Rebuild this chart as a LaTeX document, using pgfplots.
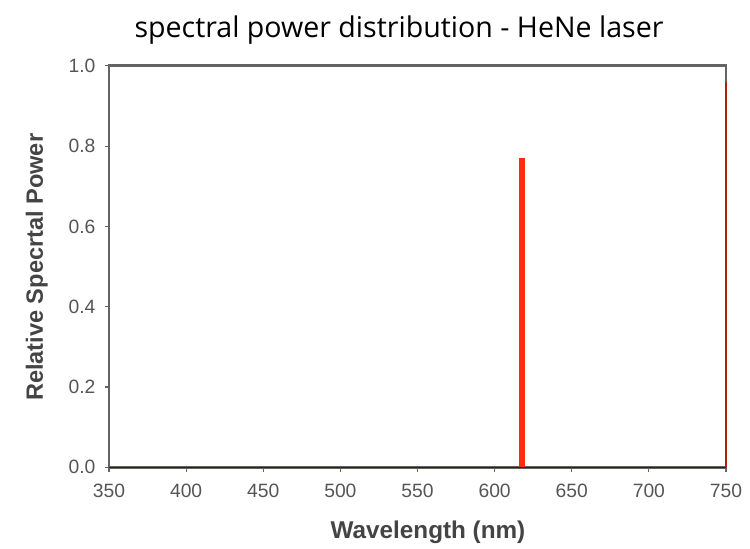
\documentclass[border=0pt]{standalone}
\usepackage{fontspec}
\setmainfont{Liberation Sans}
\newfontfamily\titlefont{Open Sans}
\usepackage{pgfplots}
\pgfplotsset{compat=1.18}
\definecolor{axgray}{RGB}{100,100,100}
\definecolor{lblgray}{RGB}{85,85,85}
\definecolor{laserred}{RGB}{250,45,15}
\definecolor{basenavy}{RGB}{30,30,70}

\begin{document}
\begin{tikzpicture}
\begin{axis}[
    scale only axis,
    width=432pt, height=281pt,
    xmin=350, xmax=750, ymin=0, ymax=1,
    xtick={350,400,...,750},
    ytick={0,0.2,...,1.0},
    xticklabel style={yshift=-5pt, /pgf/number format/fixed, /pgf/number format/precision=0},
    yticklabel style={xshift=-3pt, /pgf/number format/fixed, /pgf/number format/fixed zerofill, /pgf/number format/precision=1},
    /pgf/number format/assume math mode=true,
    tick label style={font=\fontsize{13.5}{15}\selectfont, text=lblgray},
    tick align=outside, major tick length=3pt,
    xtick pos=bottom, ytick pos=left,
    axis line style={axgray, line width=2pt},
    tick style={axgray, line width=0.8pt},
    clip=false,
]
  % zero baseline of the spectrum
  \addplot[basenavy, line width=1pt] coordinates {(350,0) (750,0)};
  % HeNe line
  \addplot[laserred, line width=4.2pt] coordinates {(618,0) (618,0.77)};
  % edge of the plotted range
  \addplot[laserred!70!black, line width=0.8pt] coordinates {(750,0) (750,0.96)};

  \node[font=\titlefont\fontsize{20}{24}\selectfont] at (axis description cs:0.47,1.0896) {spectral power distribution - HeNe laser};
  \node[font=\bfseries\fontsize{16.5}{19}\selectfont, text=lblgray!80!black, rotate=90] at (axis description cs:-0.117,0.498) {Relative Specrtal Power};
  \node[font=\bfseries\fontsize{17}{20}\selectfont, text=lblgray!80!black] at (axis description cs:0.517,-0.162) {Wavelength (nm)};
  \path (axis description cs:-0.1767,-0.189) rectangle (axis description cs:1.0389,1.1642);
\end{axis}
\end{tikzpicture}
\end{document}
